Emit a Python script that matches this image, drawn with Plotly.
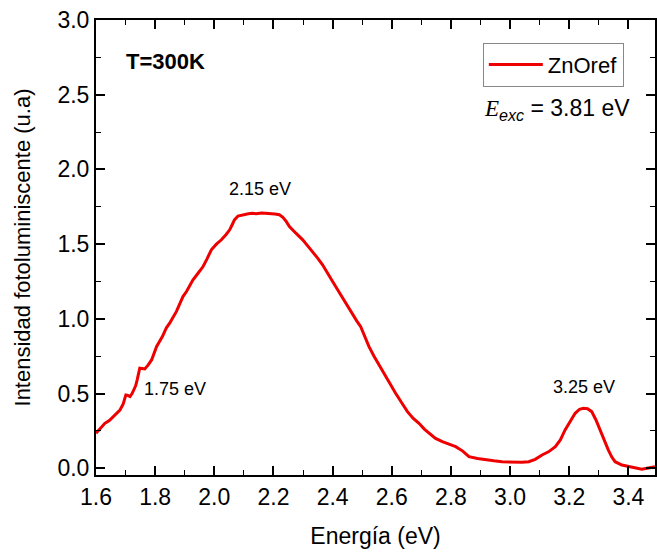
import plotly.graph_objects as go

# Energy (eV) and PL intensity (a.u.)
energy = [1.600, 1.615, 1.630, 1.645, 1.658, 1.670, 1.681, 1.692, 1.701, 1.708, 1.715, 1.722,
          1.728, 1.734, 1.739, 1.744, 1.748, 1.756, 1.765, 1.776, 1.788, 1.805, 1.824,
          1.838, 1.849, 1.872, 1.894, 1.906, 1.928, 1.945, 1.962, 1.975, 1.990, 2.007, 2.024,
          2.040, 2.052, 2.060, 2.068, 2.080, 2.096, 2.115, 2.130, 2.141, 2.160, 2.175, 2.190,
          2.205, 2.220, 2.232, 2.243, 2.254, 2.275, 2.299, 2.315, 2.332, 2.350, 2.366, 2.383,
          2.400, 2.417, 2.434, 2.450, 2.467, 2.482, 2.495, 2.510, 2.523, 2.540, 2.557, 2.574,
          2.594, 2.613, 2.633, 2.653, 2.672, 2.692, 2.710, 2.726, 2.748, 2.771, 2.795, 2.816,
          2.840, 2.861, 2.890, 2.917, 2.945, 2.973, 2.995, 3.018, 3.040, 3.063, 3.085, 3.108,
          3.130, 3.153, 3.170, 3.186, 3.203, 3.220, 3.235, 3.248, 3.262, 3.276, 3.290, 3.304,
          3.318, 3.332, 3.344, 3.355, 3.378, 3.400, 3.422, 3.445, 3.468, 3.490]
intensity = [0.234, 0.268, 0.301, 0.320, 0.346, 0.365, 0.390, 0.430, 0.491, 0.488, 0.480, 0.500,
             0.524, 0.552, 0.590, 0.640, 0.670, 0.668, 0.665, 0.690, 0.725, 0.815, 0.880,
             0.940, 0.971, 1.050, 1.149, 1.183, 1.261, 1.305, 1.350, 1.400, 1.462, 1.500, 1.529,
             1.565, 1.596, 1.628, 1.662, 1.688, 1.697, 1.703, 1.706, 1.703, 1.709, 1.708, 1.705,
             1.702, 1.697, 1.680, 1.652, 1.618, 1.575, 1.529, 1.490, 1.451, 1.405, 1.362, 1.310,
             1.250, 1.195, 1.139, 1.085, 1.027, 0.985, 0.948, 0.880, 0.814, 0.750, 0.690, 0.636,
             0.565, 0.502, 0.440, 0.379, 0.335, 0.301, 0.262, 0.234, 0.200, 0.178, 0.160, 0.145,
             0.115, 0.078, 0.066, 0.056, 0.050, 0.044, 0.042, 0.044, 0.040, 0.044, 0.060, 0.089,
             0.110, 0.145, 0.190, 0.257, 0.315, 0.368, 0.395, 0.402, 0.398, 0.379, 0.325, 0.257,
             0.185, 0.123, 0.075, 0.044, 0.022, 0.011, 0.000, -0.007, 0.002, 0.011]

peak_labels = ["1.75 eV", "2.15 eV", "3.25 eV"]
peak_x = [1.754, 2.154, 3.250]
peak_y = [0.531, 1.871, 0.545]

FONT = "Liberation Sans, Arial, sans-serif"

fig = go.Figure()
fig.add_trace(go.Scatter(x=energy, y=intensity, mode="lines", name="ZnOref",
                         line=dict(color="#ee0000", width=3)))

axis_common = dict(showline=True, linecolor="black", linewidth=2, mirror="ticks",
                   ticks="inside", ticklen=9, tickwidth=1.6, tickcolor="black",
                   showgrid=False, zeroline=False,
                   tickfont=dict(family=FONT, size=23, color="black"))

fig.update_xaxes(range=[1.6, 3.49], tick0=1.6, dtick=0.2, tickformat=".1f",
                 minor=dict(ticks="inside", ticklen=5, dtick=0.1, tick0=1.6, tickcolor="black", tickwidth=1.4),
                 title=dict(text="Energía (eV)", font=dict(family=FONT, size=23, color="black"), standoff=19),
                 **axis_common)
fig.update_yaxes(range=[-0.045, 3.0], tick0=0, dtick=0.5, tickformat=".1f",
                 minor=dict(ticks="inside", ticklen=5, dtick=0.25, tick0=0, tickcolor="black", tickwidth=1.4),
                 title=dict(text="Intensidad fotoluminiscente (u.a)", font=dict(family=FONT, size=22, color="black"), standoff=21),
                 **axis_common)

for t, xx, yy in zip(peak_labels, peak_x, peak_y):
    fig.add_annotation(x=xx, y=yy, text=t, showarrow=False,
                       xanchor="left" if t == "1.75 eV" else "center", yanchor="middle",
                       font=dict(family=FONT, size=18, color="black"))

fig.add_annotation(x=1.694, y=2.72, text="<b>T=300K</b>", showarrow=False, xanchor="left",
                   yanchor="middle", font=dict(family=FONT, size=22, color="black"))
fig.add_annotation(x=2.904, y=2.40,
                   text="<span style='font-family:Liberation Serif'><i>E</i></span><sub><i>exc</i></sub> = 3.81 eV",
                   showarrow=False, xanchor="left", yanchor="middle",
                   font=dict(family=FONT, size=23, color="black"))

fig.update_layout(width=657, height=554, margin=dict(l=96, r=0, t=20, b=79),
                  plot_bgcolor="white", paper_bgcolor="white",
                  showlegend=True,
                  legend=dict(x=0.692, y=0.95, xanchor="left", yanchor="top",
                              bgcolor="white", bordercolor="#888888", borderwidth=1,
                              itemwidth=54, font=dict(family=FONT, size=22, color="black")))

fig.write_html("out.html")
